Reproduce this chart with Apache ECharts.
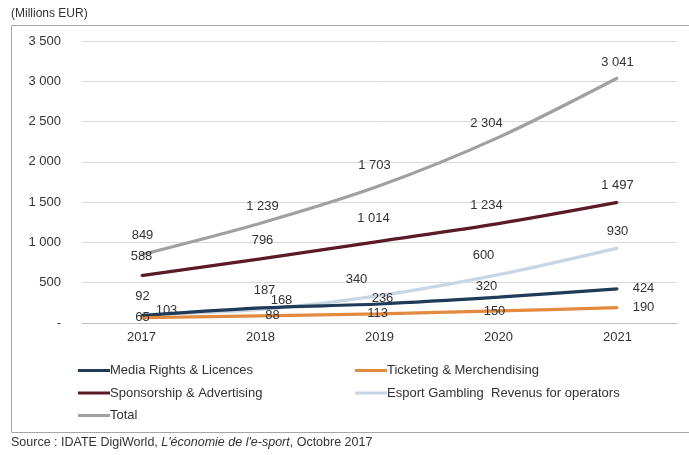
<!DOCTYPE html>
<html>
<head>
<meta charset="utf-8">
<script src="https://cdn.jsdelivr.net/npm/echarts@6/dist/echarts.min.js"></script>
<style>
  html, body { margin: 0; padding: 0; background: #ffffff; }
  #chart { width: 689px; height: 455px; }
</style>
</head>
<body>
<div id="chart"></div>
<script>
// E-sport revenue by source, millions of euros
const years = ['2017', '2018', '2019', '2020', '2021'];

const mediaRights = [92, 187, 236, 320, 424];
const ticketing   = [65, 88, 113, 150, 190];
const sponsorship = [588, 796, 1014, 1234, 1497];
const gambling    = [103, 168, 340, 600, 930];
const total       = [849, 1239, 1703, 2304, 3041];

const yTicks = [0, 500, 1000, 1500, 2000, 2500, 3000, 3500];

// Label placement relative to each point (pixel offsets)
const mediaOffsets   = [[1, -19], [4, -18], [3, -6], [-12, -11], [26, 0]];
const ticketOffsets  = [[1, 0], [12, 0], [-2, 0], [-4, 1], [26, 0]];
const sponsorOffsets = [[0, -19], [2, -18], [-6, -23], [-12, -18], [0, -17]];
const gamblingOffsets= [[25, -4], [21, -9], [-23, -16], [-15, -19], [0, -17]];
const totalOffsets   = [[1, -19], [2, -17], [-5, -20], [-12, -14], [0, -16]];

const FONT = 'Liberation Sans, Arial, sans-serif';
const TEXT = '#333333';

function fmt(v) {
  if (v === 0) return '-';
  return String(v).replace(/\B(?=(\d{3})+(?!\d))/g, ' ');
}

function withLabels(values, offsets) {
  return values.map((v, i) => ({
    value: v,
    label: { offset: offsets[i] }
  }));
}

function lineSeries(name, values, offsets, color, z) {
  return {
    name: name,
    type: 'line',
    smooth: 0.3,
    data: withLabels(values, offsets),
    symbol: 'circle',
    symbolSize: 2,
    z: z,
    lineStyle: { color: color, width: 3.2 },
    itemStyle: { color: color },
    label: {
      show: true,
      position: 'inside',
      color: TEXT,
      fontFamily: FONT,
      fontSize: 13,
      formatter: p => fmt(p.value)
    },
    emphasis: { disabled: true }
  };
}

const chart = echarts.init(document.getElementById('chart'), null, { renderer: 'canvas' });

const legendText = { color: TEXT, fontSize: 13, fontFamily: FONT, padding: [0, 0, 0, -5] };

chart.setOption({
  animation: false,
  backgroundColor: '#ffffff',
  textStyle: { fontFamily: FONT },
  graphic: [
    {
      type: 'rect',
      shape: { x: 11.5, y: 25.5, width: 700, height: 407 },
      style: { fill: 'none', stroke: '#a6a6a6', lineWidth: 1 },
      silent: true
    },
    {
      type: 'text',
      left: 11, top: 8,
      style: { text: '(Millions EUR)', fill: TEXT, font: '12px ' + FONT }
    },
    {
      type: 'text',
      left: 11, top: 436,
      style: {
        text: '{n|Source : IDATE DigiWorld, }{i|L\'économie de l\'e-sport}{n|, Octobre 2017}',
        rich: {
          n: { fill: TEXT, font: '12.5px ' + FONT },
          i: { fill: TEXT, font: 'italic 12.5px ' + FONT }
        }
      }
    }
  ],
  grid: { left: 82, right: 12, top: 41, bottom: 132 },
  xAxis: {
    type: 'category',
    data: years,
    boundaryGap: true,
    axisLine: { show: true, lineStyle: { color: '#bfbfbf', width: 1 } },
    axisTick: { show: false },
    axisLabel: { color: TEXT, fontSize: 13, fontFamily: FONT, margin: 8 }
  },
  yAxis: {
    type: 'value',
    min: yTicks[0],
    max: yTicks[yTicks.length - 1],
    interval: 500,
    axisLine: { show: false },
    axisTick: { show: false },
    splitLine: { lineStyle: { color: '#d9d9d9', width: 1 } },
    axisLabel: { color: TEXT, fontSize: 13, fontFamily: FONT, margin: 21, formatter: fmt }
  },
  legend: [
    {
      data: ['Media Rights & Licences', 'Sponsorship & Advertising', 'Total'],
      orient: 'vertical',
      left: 78, top: 364, padding: 0,
      itemWidth: 32, itemHeight: 3, itemGap: 9.5,
      icon: 'rect',
      textStyle: legendText
    },
    {
      data: ['Ticketing & Merchendising', 'Esport Gambling  Revenus for operators'],
      orient: 'vertical',
      left: 355, top: 364, padding: 0,
      itemWidth: 32, itemHeight: 3, itemGap: 9.5,
      icon: 'rect',
      textStyle: legendText
    }
  ],
  series: [
    lineSeries('Total', total, totalOffsets, '#a0a0a0', 2),
    lineSeries('Sponsorship & Advertising', sponsorship, sponsorOffsets, '#5b1a26', 3),
    lineSeries('Esport Gambling  Revenus for operators', gambling, gamblingOffsets, '#c8d6e4', 4),
    lineSeries('Media Rights & Licences', mediaRights, mediaOffsets, '#1f3b57', 5),
    lineSeries('Ticketing & Merchendising', ticketing, ticketOffsets, '#e28a3e', 6)
  ]
});
</script>
</body>
</html>
